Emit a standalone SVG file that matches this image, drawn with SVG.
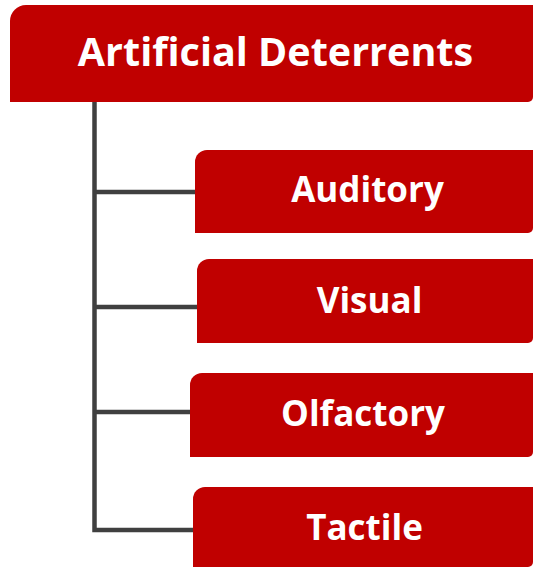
<svg xmlns="http://www.w3.org/2000/svg" width="534" height="569" viewBox="0 0 534 569">
<style>
.box{fill:#C00000}
.lbl{fill:#fff;font-family:"Open Sans","Liberation Sans",sans-serif;font-weight:bold;text-anchor:middle}
.conn{fill:none;stroke:#404040;stroke-width:4.5}
</style>
<rect width="534" height="569" fill="#fff"/>
<g id="connectors">
<path class="conn" d="M94.5,102 V530 H195"/>
<path class="conn" d="M94.5,192 H197"/>
<path class="conn" d="M94.5,307 H199"/>
<path class="conn" d="M94.5,412 H192"/>
</g>
<g id="artificial-deterrents">
<path class="box" d="M10,21 A16,16 0 0 1 26,5 H533 V97 A5,5 0 0 1 528,102 H10 Z"/>
<text class="lbl" x="275.5" y="66" font-size="39.5">Artificial Deterrents</text>
</g>
<g id="auditory">
<path class="box" d="M195,162 A12,12 0 0 1 207,150 H533 V228 A5,5 0 0 1 528,233 H195 Z"/>
<text class="lbl" x="367.5" y="202" font-size="35">Auditory</text>
</g>
<g id="visual">
<path class="box" d="M197,271 A12,12 0 0 1 209,259 H533 V338 A5,5 0 0 1 528,343 H197 Z"/>
<text class="lbl" x="369.5" y="313" font-size="35">Visual</text>
</g>
<g id="olfactory">
<path class="box" d="M190,385 A12,12 0 0 1 202,373 H533 V452 A5,5 0 0 1 528,457 H190 Z"/>
<text class="lbl" x="363" y="426" font-size="35">Olfactory</text>
</g>
<g id="tactile">
<path class="box" d="M193,499 A12,12 0 0 1 205,487 H533 V562 A5,5 0 0 1 528,567 H193 Z"/>
<text class="lbl" x="364.5" y="540" font-size="35">Tactile</text>
</g>
</svg>
